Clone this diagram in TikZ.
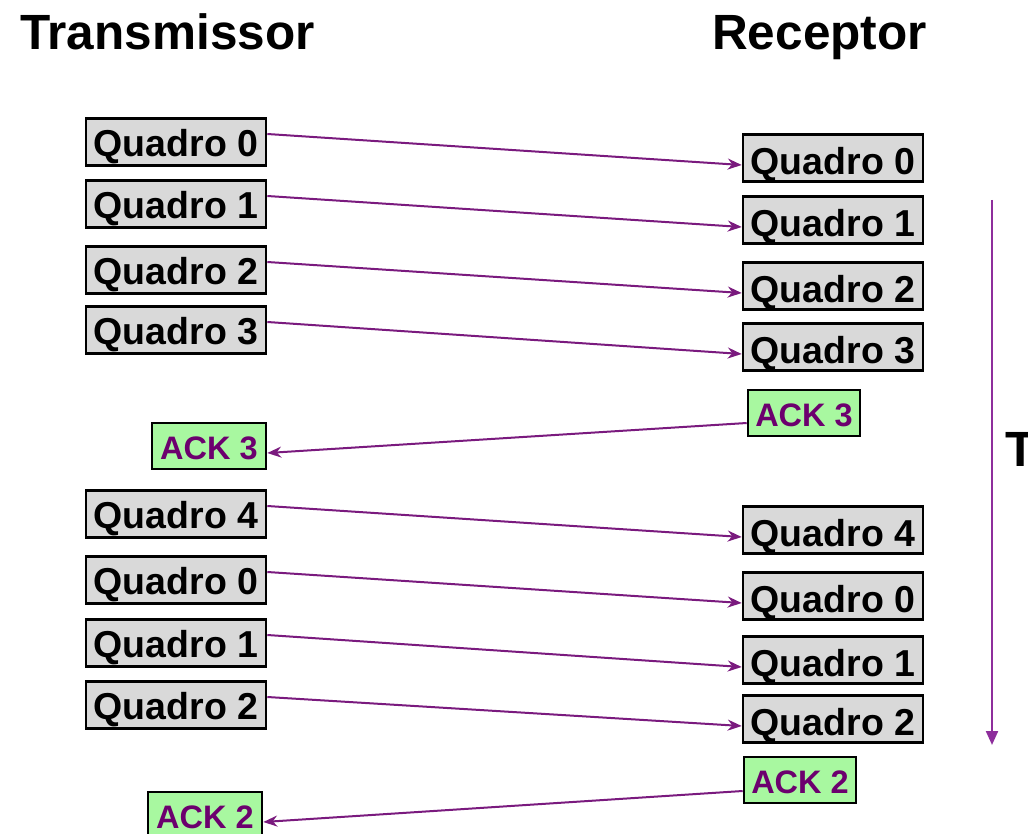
\documentclass[tikz,border=0pt]{standalone}
\usepackage{fontspec}
\setmainfont{Liberation Sans}
\usetikzlibrary{arrows.meta}
\definecolor{boxgray}{HTML}{D9D9D9}
\definecolor{ackgreen}{HTML}{A8F8A0}
\definecolor{linepurple}{HTML}{7A1A7E}
\definecolor{ackpurple}{HTML}{6C006E}
\definecolor{timepurple}{HTML}{8E2E9C}
\begin{document}
\begin{tikzpicture}[x=1pt,y=-1pt,
  frame/.style={draw=black,line width=2.6pt,fill=boxgray,minimum width=180pt,minimum height=47pt,inner sep=0pt,text height=33pt,text depth=0pt,font=\fontsize{37.5}{40}\selectfont\bfseries},
  lframe/.style={frame,text height=28.5pt},
  ack/.style={draw=black,line width=2.6pt,fill=ackgreen,minimum height=46pt,inner sep=0pt,text height=27pt,text depth=0pt,text=ackpurple,font=\fontsize{32.5}{34}\selectfont\bfseries},
  msg/.style={draw=linepurple,line width=2pt,-{Stealth[length=14pt,width=11pt]}},
  title/.style={font=\fontsize{49.5}{52}\selectfont\bfseries,inner sep=0pt}
]
\useasboundingbox (0,0) rectangle (1028,834);
\clip (0,0) rectangle (1028,834);
% titles
\node[title,anchor=base west] (tx) at (20,50) {Transmissor};
\node[title,anchor=base east] (rx) at (927,50) {Receptor};
% left frames
\node[lframe] (l0) at (176,142) {Quadro 0};
\node[lframe] (l1) at (176,204) {Quadro 1};
\node[lframe] (l2) at (176,270) {Quadro 2};
\node[lframe] (l3) at (176,330) {Quadro 3};
\node[ack,minimum width=114pt] (la3) at (209,446) {ACK 3};
\node[lframe] (l4) at (176,514) {Quadro 4};
\node[lframe] (l5) at (176,580) {Quadro 0};
\node[lframe] (l6) at (176,643) {Quadro 1};
\node[lframe] (l7) at (176,705) {Quadro 2};
\node[ack,minimum width=114pt] (la2) at (205,815) {ACK 2};
% right frames
\node[frame] (r0) at (833,158) {Quadro 0};
\node[frame] (r1) at (833,220) {Quadro 1};
\node[frame] (r2) at (833,286) {Quadro 2};
\node[frame] (r3) at (833,347) {Quadro 3};
\node[ack,minimum width=112pt] (ra3) at (804,413) {ACK 3};
\node[frame] (r4) at (833,530) {Quadro 4};
\node[frame] (r5) at (833,596) {Quadro 0};
\node[frame] (r6) at (833,660) {Quadro 1};
\node[frame] (r7) at (833,719) {Quadro 2};
\node[ack,minimum width=112pt] (ra2) at (800,780) {ACK 2};
% frame arrows
\foreach \i in {0,...,7}{
  \draw[msg] ([yshift=8pt]l\i.east) -- ([yshift=-7pt]r\i.west);
}
% ack arrows
\draw[msg] ([yshift=-10pt]ra3.west) -- ([yshift=-7pt]la3.east);
\draw[msg] ([yshift=-11pt]ra2.west) -- ([yshift=-7pt]la2.east);
% time axis
\coordinate (t0) at (992,200);
\coordinate (t1) at (992,745);
\draw[draw=timepurple,line width=2.2pt,-{Triangle[length=14pt,width=12pt]}] (t0) -- (t1);
\node[title,anchor=base west] (tempo) at (1005,466) {Tempo};
\end{tikzpicture}
\end{document}
